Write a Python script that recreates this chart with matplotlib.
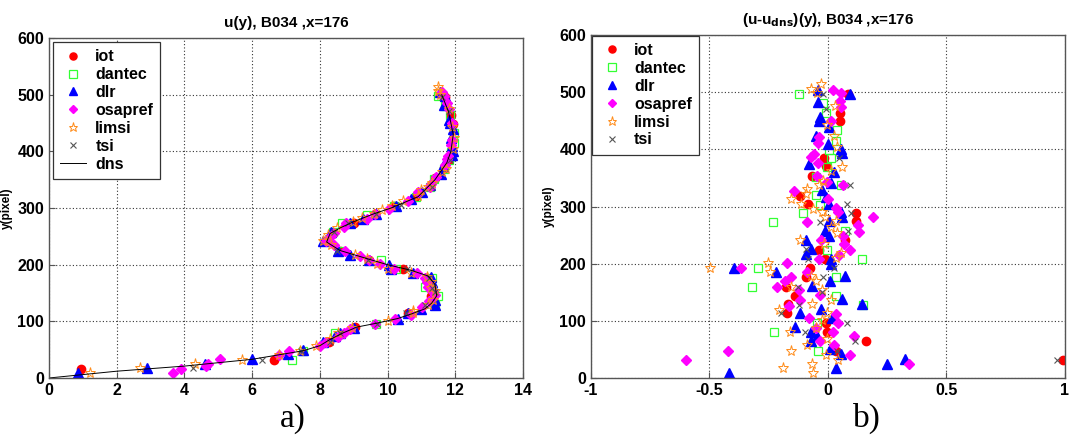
import matplotlib
matplotlib.use('Agg')
import matplotlib.pyplot as plt

plt.rcParams['font.family'] = ['Liberation Sans', 'DejaVu Sans']

# dns reference profile (u, y)
dns_u = [0, 2, 4, 6, 7.5, 8, 8.3, 8.7, 9.1, 9.7, 10.3, 10.7, 11.1, 11.3, 11.45, 11.4, 11.2,
         10.7, 10.0, 9.6, 9.1, 8.6, 8.2, 8.3, 8.6, 9.0, 9.6, 10.1, 10.9, 11.4, 11.75, 11.87,
         11.94, 11.8, 11.6]
dns_y = [0, 12, 21, 33, 48, 57, 68, 80, 90, 97, 105, 113, 122, 132, 145, 165, 180,
         190, 200, 207, 216, 225, 240, 255, 265, 276, 290, 300, 320, 350, 380, 400,
         430, 470, 500]

# left panel: u(y)
iot_u = [0.95, 6.65, 8.27, 9.05, 10.6, 11.27, 11.25, 11.15, 10.45, 9.45, 8.6, 8.25, 9.0,
         9.63, 10.2, 10.8, 11.4, 11.66, 11.8, 11.93, 11.88, 11.7]
iot_y = [16, 32, 63, 90, 114, 144, 160, 176, 193, 209, 224, 241, 273, 289, 304, 319, 353,
         371, 385, 449, 464, 496]
dantec_u = [7.17, 7.5, 8.45, 9.65, 11.4, 11.48, 11.1, 11.3, 10.25, 9.8, 8.6, 8.4, 8.65, 9.4,
            10.2, 10.85, 11.25, 11.37, 11.67, 11.81, 11.87, 11.95, 11.96, 11.84, 11.7, 11.5]
dantec_y = [32, 48, 80, 96, 128, 144, 160, 176, 192, 208, 224, 258, 273, 288, 303, 320, 337,
            351, 369, 385, 399, 415, 433, 464, 481, 497]
dlr_u = [0.85, 2.9, 4.6, 6.0, 7.05, 7.5, 8.1, 8.45, 8.6, 9.0, 10.3, 10.6, 11.0, 11.4, 11.4,
         11.35, 11.3, 11.27, 10.75, 10.1, 10.05, 9.45, 8.9, 8.53, 8.1, 8.25, 8.33, 8.9, 9.26,
         9.65, 10.25, 10.7, 11.03, 11.25, 11.57, 11.64, 11.91, 11.93, 11.9, 11.88, 11.92, 11.84,
         11.82, 11.68, 11.71, 11.54]
dlr_y = [9, 17, 25, 33, 42, 50, 64, 74, 80, 89, 105, 114, 121, 129, 138, 161, 170, 179, 185,
         193, 199, 209, 217, 225, 241, 249, 258, 274, 281, 290, 304, 316, 329, 341, 360, 375,
         393, 400, 410, 424, 439, 450, 456, 482, 497, 504]
osapref_u = [3.65, 3.9, 4.65, 4.7, 5.05, 6.8, 7.1, 8.0, 8.17, 8.55, 8.72, 8.9, 9.63, 10.22,
             10.68, 11.03, 11.23, 11.41, 11.31, 11.2, 11.15, 11.1, 10.86, 10.2, 9.78, 9.46, 9.2,
             8.74, 8.42, 8.17, 8.31, 8.43, 8.72, 8.76, 9.39, 9.64, 10.03, 10.6, 10.9, 11.26,
             11.28, 11.42, 11.69, 11.76, 11.78, 11.86, 11.89, 11.89, 11.81, 11.75, 11.67, 11.6]
osapref_y = [9, 16, 22, 24, 33, 40, 47, 57, 64, 73, 80, 87, 96, 105, 112, 126, 136, 146, 154,
             160, 169, 176, 185, 192, 201, 208, 215, 224, 234, 242, 249, 256, 267, 273, 281,
             290, 298, 313, 328, 337, 343, 354, 376, 386, 392, 411, 421, 450, 474, 485, 498, 504]
limsi_u = [1.2, 2.7, 4.3, 5.7, 6.8, 7.4, 7.9, 8.3, 8.55, 8.95, 10.0, 10.75, 10.75, 11.2, 11.35,
           11.4, 11.27, 11.27, 11.15, 10.7, 10.0, 9.7, 9.4, 9.03, 8.33, 8.08, 8.25, 8.51, 8.98,
           9.24, 9.59, 9.84, 10.14, 10.45, 10.89, 11.0, 11.18, 11.3, 11.6, 11.73, 11.93, 11.95,
           11.9, 11.8, 11.56, 11.5, 11.5]
limsi_y = [9, 17, 24, 32, 40, 48, 57, 68, 80, 88, 101, 114, 119, 129, 137, 154, 159, 170, 178,
           185, 193, 201, 210, 218, 234, 241, 253, 264, 275, 282, 290, 296, 304, 313, 322, 331,
           338, 345, 363, 369, 404, 424, 443, 475, 499, 506, 514]
tsi_u = [4.25, 6.3, 7.45, 8.3, 8.6, 9.68, 10.55, 11.1, 11.4, 11.3, 11.23, 10.57, 9.42, 8.5,
         8.43, 8.82, 9.65, 10.4, 11.3, 11.85, 11.8, 11.6]
tsi_y = [18, 32, 47, 64, 80, 96, 114, 128, 151, 159, 176, 192, 208, 225, 258, 273, 289, 305,
         337, 385, 471, 496]

# right panel: (u - u_dns)(y)
iot_d = [0.085, 0.05, 0.05, -0.017, -0.01, -0.066, -0.12, -0.083, 0.117, 0.117, 0.07, -0.038,
         -0.014, -0.076, -0.094, -0.175, -0.141, -0.168, -0.172, -0.007, -0.006, 0.16, 0.032, 0.99]
iot_dy = [496, 464, 449, 385, 371, 353, 319, 304, 289, 274, 241, 224, 209, 193, 176, 159, 144,
          129, 114, 96, 80, 65, 48, 32]
dantec_d = [-0.121, -0.02, -0.01, 0.037, 0.032, 0.006, 0.014, -0.003, -0.05, 0.055, -0.052,
            -0.034, -0.106, -0.234, 0.07, -0.006, 0.144, -0.296, 0.034, -0.322, 0.034, 0.147,
            -0.048, -0.228, -0.042]
dantec_dy = [497, 481, 464, 433, 415, 399, 385, 369, 351, 337, 320, 303, 288, 273, 258, 224,
             208, 192, 176, 160, 144, 128, 96, 80, 48]
dlr_d = [-0.042, 0.093, -0.042, -0.035, -0.037, 0.004, -0.05, 0.0, 0.056, 0.06, -0.08, 0.025,
         0.011, -0.024, -0.01, 0.004, 0.054, 0.06, 0.006, -0.013, 0.006, -0.092, -0.073, -0.092,
         0.011, 0.011, -0.398, -0.22, 0.07, 0.007, -0.066, 0.061, 0.142, -0.116, -0.031, 0.016,
         -0.14, -0.073, -0.048, -0.073, 0.007, 0.054, 0.251, 0.326, -0.416, 0.032]
dlr_dy = [504, 497, 482, 456, 450, 439, 424, 410, 400, 393, 375, 360, 341, 329, 316, 304, 290,
          281, 274, 258, 249, 241, 225, 217, 209, 199, 193, 185, 179, 170, 161, 138, 129, 114,
          121, 105, 89, 80, 74, 64, 50, 42, 25, 33, 9, 17]
osapref_d = [0.02, 0.054, 0.05, 0.054, 0.011, -0.038, -0.042, -0.059, -0.073, -0.041, -0.045,
             -0.003, 0.065, -0.144, 0.001, 0.032, 0.044, 0.188, -0.087, 0.128, 0.13, 0.065,
             -0.031, 0.068, 0.093, 0.047, -0.038, -0.172, -0.365, -0.087, -0.158, -0.182,
             -0.214, -0.123, -0.118, -0.035, -0.165, -0.079, 0.035, 0.044, -0.049, 0.021, 0.11,
             -0.034, 0.025, -0.423, 0.092, -0.599, 0.343]
osapref_dy = [504, 498, 485, 474, 450, 421, 411, 392, 386, 376, 354, 343, 337, 328, 313, 298,
              290, 281, 273, 267, 256, 249, 242, 234, 224, 215, 208, 201, 192, 185, 176, 169,
              160, 154, 136, 146, 126, 105, 112, 96, 87, 80, 73, 64, 57, 48, 41, 32, 24]
limsi_d = [-0.031, -0.073, -0.048, 0.028, -0.006, 0.025, 0.04, 0.061, 0.011, -0.021, -0.038,
           -0.09, -0.094, -0.155, -0.114, -0.062, -0.024, -0.014, 0.032, 0.011, 0.04, -0.118,
           -0.017, 0.056, 0.032, -0.254, -0.499, -0.243, -0.07, -0.052, -0.155, -0.024, 0.014,
           -0.066, -0.206, -0.006, -0.027, -0.051, -0.162, -0.003, -0.087, -0.158, -0.01, 0.044,
           -0.069, -0.19, -0.062]
limsi_dy = [514, 506, 499, 475, 443, 424, 404, 369, 363, 345, 338, 331, 322, 313, 304, 296,
            290, 282, 275, 264, 253, 241, 234, 218, 210, 201, 193, 185, 178, 170, 159, 154, 137,
            129, 119, 114, 101, 88, 80, 68, 57, 48, 40, 32, 24, 17, 9]
tsi_d = [-0.02, -0.01, 0.047, 0.093, 0.082, 0.096, -0.034, 0.086, -0.094, -0.083, -0.02, 0.025,
         -0.126, -0.027, -0.123, -0.197, 0.079, -0.097, 0.114, 0.037, 0.968]
tsi_dy = [496, 471, 385, 337, 305, 289, 273, 258, 225, 208, 176, 192, 159, 151, 128, 114, 96,
          80, 64, 47, 32]

styles = {
    'iot': dict(marker='o', color='#ff0000', mfc='#ff0000', mec='#ff0000', ms=6),
    'dantec': dict(marker='s', color='#33ff33', mfc='none', mec='#33ff33', ms=6, mew=0.9),
    'dlr': dict(marker='^', color='#0000ff', mfc='#0000ff', mec='#0000ff', ms=6.5),
    'osapref': dict(marker='D', color='#ff00ff', mfc='#ff00ff', mec='#ff00ff', ms=5),
    'limsi': dict(marker='*', color='#ff8c1a', mfc='none', mec='#ff8c1a', ms=8, mew=0.7),
    'tsi': dict(marker='x', color='#555555', mec='#555555', ms=5, mew=0.8),
}

left_data = [('iot', iot_u, iot_y), ('dantec', dantec_u, dantec_y), ('dlr', dlr_u, dlr_y),
             ('osapref', osapref_u, osapref_y), ('limsi', limsi_u, limsi_y), ('tsi', tsi_u, tsi_y)]
right_data = [('iot', iot_d, iot_dy), ('dantec', dantec_d, dantec_dy), ('dlr', dlr_d, dlr_dy),
              ('osapref', osapref_d, osapref_dy), ('limsi', limsi_d, limsi_dy), ('tsi', tsi_d, tsi_dy)]

fig = plt.figure(figsize=(10.7, 4.38), dpi=100)
ax1 = fig.add_axes([0.0458, 0.137, 0.443, 0.776])
ax2 = fig.add_axes([0.5523, 0.137, 0.443, 0.783])


def style_axes(ax):
    ax.grid(True, linestyle=(0, (1, 2)), color='#333333', linewidth=0.8)
    ax.set_axisbelow(True)
    for sp in ax.spines.values():
        sp.set_color('#555555')
        sp.set_linewidth(1.0)
    ax.tick_params(direction='in', length=4, labelsize=11.5, colors='#555555',
                   labelcolor='black')
    for lbl in ax.get_xticklabels() + ax.get_yticklabels():
        lbl.set_fontweight('bold')
    ax.set_ylabel('y(pixel)', fontsize=8.5, fontweight='bold', labelpad=3)


def add_legend(ax, pad):
    leg = ax.legend(loc='upper left', numpoints=1, prop={'weight': 'bold', 'size': 11.5},
                    fancybox=False, framealpha=1, edgecolor='#333333', borderaxespad=pad,
                    labelspacing=0.18, handlelength=1.6, handletextpad=0.6, borderpad=0.45,
                    markerscale=0.85)
    leg.get_frame().set_linewidth(0.9)
    return leg


for name, xs, ys in left_data:
    ax1.plot(xs, ys, linestyle='none', label=name, **styles[name])
ax1.plot(dns_u, dns_y, color='black', linewidth=0.7, label='dns')
ax1.set_xlim(0, 14)
ax1.set_ylim(0, 600)
ax1.set_xticks(range(0, 15, 2))
ax1.set_yticks(range(0, 601, 100))
style_axes(ax1)
ax1.set_title('u(y), B034 ,x=176', fontsize=11, fontweight='bold', pad=8)
add_legend(ax1, 0.25)

for name, xs, ys in right_data:
    ax2.plot(xs, ys, linestyle='none', label=name, **styles[name])
ax2.set_xlim(-1, 1)
ax2.set_ylim(0, 600)
ax2.set_xticks([-1, -0.5, 0, 0.5, 1])
ax2.set_xticklabels(['-1', '-0.5', '0', '0.5', '1'])
ax2.set_yticks(range(0, 601, 100))
style_axes(ax2)
ax2.set_title('(u-u$_{\\mathbf{dns}}$)(y), B034 ,x=176', fontsize=11, fontweight='bold', pad=8)
add_legend(ax2, 0.05)

fig.text(0.274, 0.045, 'a)', fontsize=24, family='Liberation Serif', ha='center', va='center')
fig.text(0.81, 0.045, 'b)', fontsize=24, family='Liberation Serif', ha='center', va='center')

fig.savefig('out.png', dpi=100)
